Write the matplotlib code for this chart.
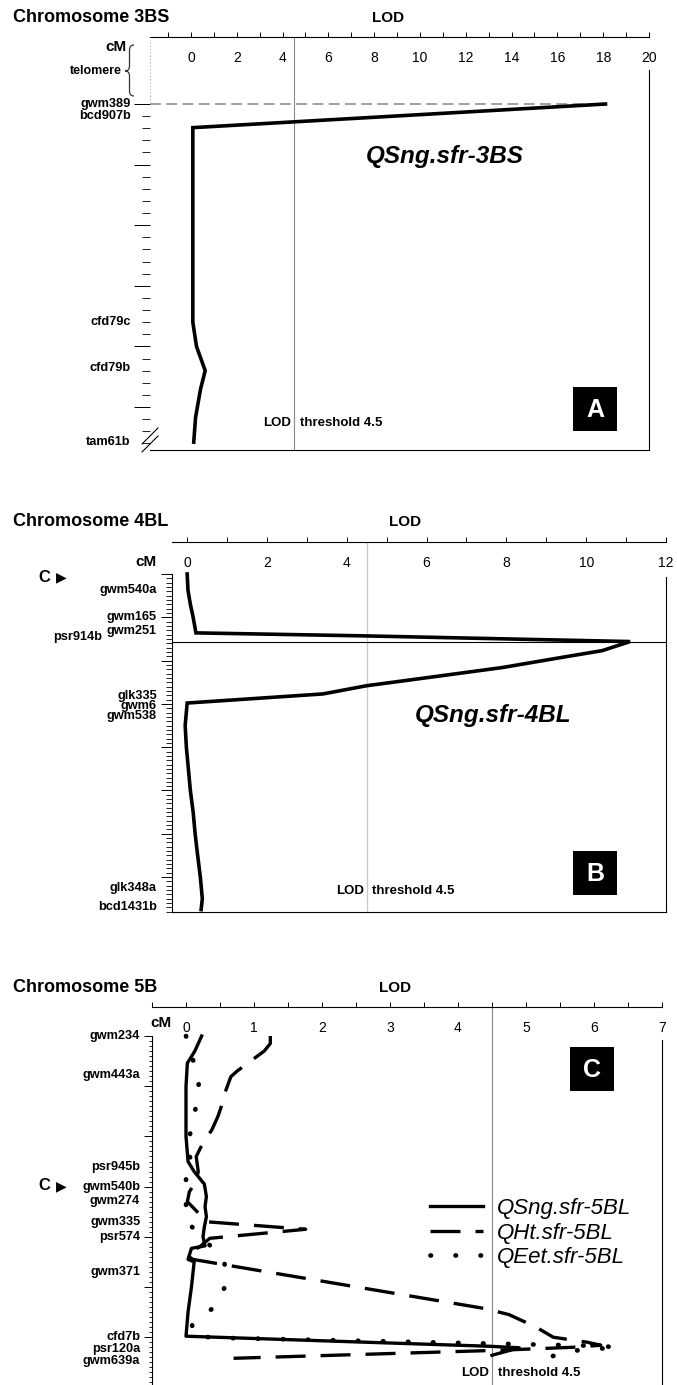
import numpy as np
import matplotlib
matplotlib.use('Agg')
import matplotlib.pyplot as plt
import matplotlib.transforms as mtransforms
from matplotlib.patches import Rectangle, PathPatch
from matplotlib.path import Path

plt.rcParams['font.family'] = ['Liberation Sans', 'DejaVu Sans']

# ---- Chromosome 3BS ----
a_markers = ['gwm389', 'bcd907b', 'cfd79c', 'cfd79b', 'tam61b']
a_marker_cm = [0, 2, 36, 43.5, 55.8]
a_cm = [0, 3.9, 10, 20, 30, 36, 40, 44, 47, 51.7, 55.8]
a_lod = [18.1, 0.08, 0.08, 0.08, 0.08, 0.08, 0.24, 0.62, 0.42, 0.2, 0.12]

# ---- Chromosome 4BL ----
b_markers = ['gwm540a', 'gwm165', 'gwm251', 'psr914b', 'glk335', 'gwm6',
             'gwm538', 'glk348a', 'bcd1431b']
b_marker_cm = [3.7, 10, 13.2, 14.6, 28.2, 30.5, 32.8, 72.5, 76.9]
b_peak_cm = 15.6
b_cm = [0, 3.7, 7, 10, 13.6, 14.3, 15.6, 17.7, 19.4, 21.6, 24.7, 25.8, 27.7,
        29.8, 35, 40, 45, 50, 55, 60, 64, 70, 75, 77.5]
b_lod = [0.0, 0.02, 0.08, 0.15, 0.22, 4.5, 11.1, 10.4, 9.3, 7.9, 5.4, 4.5, 3.4,
         0.0, -0.05, -0.02, 0.03, 0.08, 0.15, 0.2, 0.25, 0.33, 0.38, 0.35]

# ---- Chromosome 5B ----
c_markers = ['gwm234', 'gwm443a', 'psr945b', 'gwm540b', 'gwm274', 'gwm335',
             'psr574', 'gwm371', 'cfd7b', 'psr120a', 'gwm639a']
c_marker_cm = [0, 7.8, 26, 30, 32.8, 37, 40, 47, 60, 62.4, 64.8]
c_cm_sng = [0, 3, 5.4, 10, 20, 25, 27, 29.5, 32, 34, 36, 38, 40, 41.8, 42.3,
            44.5, 45, 50, 55, 59.8, 60.8, 61.8, 62.1, 63.6]
c_sng = [0.23, 0.13, 0.02, 0.0, 0.0, 0.03, 0.12, 0.27, 0.3, 0.28, 0.3, 0.27,
         0.25, 0.28, 0.08, 0.03, 0.12, 0.08, 0.03, 0.0, 2.2, 4.45, 4.9, 4.5]
c_cm_ht = [0, 1.5, 3, 5, 7, 8.1, 11.4, 14, 16, 18.7, 21.3, 24, 27, 29, 31, 33,
           35.5, 37, 38.5, 40.3, 42, 43.5, 44.5, 54.3, 55.5, 58, 60, 61, 61.6,
           62, 62.6, 64.2]
c_ht = [1.24, 1.24, 1.15, 0.95, 0.75, 0.66, 0.57, 0.52, 0.47, 0.38, 0.25, 0.15,
        0.18, 0.15, 0.05, 0.02, 0.2, 0.3, 1.76, 0.35, 0.2, 0.0, 0.1, 4.4, 4.75,
        5.15, 5.4, 5.9, 6.1, 5.7, 4.6, 0.7]
c_cm_et = [0, 4.6, 9.2, 13.8, 18.4, 22.9, 25, 27.5, 32, 36.8, 44.6, 49.2, 53.8,
           57.6, 59.6, 60.1, 61.7, 62.0, 62.8, 64.2]
c_et = [0.0, 0.1, 0.19, 0.15, 0.08, 0.0, 0.1, 0.0, 0.0, 0.0, 0.56, 0.6, 0.43,
        0.09, 0.1, 0.4, 6.0, 6.35, 5.6, 5.3]

threshold = 4.5

W, H = 677, 1385
fig = plt.figure(figsize=(W / 100, H / 100), dpi=100)
pix = mtransforms.Affine2D().scale(1.0 / W, -1.0 / H).translate(0, 1) + fig.transFigure


def add_axes_px(l, t, r, b):
    return fig.add_axes([l / W, 1 - b / H, (r - l) / W, (b - t) / H])


def style_panel(ax, xlim, ylim, xmajor, xminor, ymajor, yminor, ylen, right_from):
    ax.set_xlim(*xlim)
    ax.set_ylim(*ylim)
    ax.xaxis.tick_top()
    ax.set_xticks(xmajor)
    ax.set_xticks(xminor, minor=True)
    ax.set_xticklabels(['%g' % v for v in xmajor])
    ax.tick_params(axis='x', which='both', direction='out', length=3.5,
                   width=0.7, pad=-24, labelsize=10, top=True, bottom=False,
                   labeltop=True, labelbottom=False)
    ax.set_yticks(ymajor)
    ax.set_yticks(yminor, minor=True)
    ax.set_yticklabels([])
    ax.tick_params(axis='y', which='major', direction='out', length=ylen[0], width=0.7)
    ax.tick_params(axis='y', which='minor', direction='out', length=ylen[1], width=0.6)
    for s in ax.spines.values():
        s.set_linewidth(0.8)
    ax.spines['right'].set_bounds(right_from, ylim[0])
    ax.axvline(threshold, color='#888888', lw=0.8, zorder=1)


def marker_labels(ax, names, cms, dx, shifted=None):
    tr = mtransforms.blended_transform_factory(ax.transAxes, ax.transData)
    for n, c in zip(names, cms):
        off = dx
        if shifted and n in shifted:
            off = shifted[n]
        ax.annotate(n, xy=(0, c), xycoords=tr, xytext=(-off, 0),
                    textcoords='offset points', ha='right', va='center',
                    fontsize=9.2, fontweight='bold', annotation_clip=False)


def threshold_text(ax, yfrac):
    tr = mtransforms.blended_transform_factory(ax.transData, ax.transAxes)
    ax.annotate('LOD', xy=(threshold, yfrac), xycoords=tr, xytext=(-2, 0),
                textcoords='offset points', ha='right', va='center',
                fontsize=9.5, fontweight='bold')
    ax.annotate('threshold 4.5', xy=(threshold, yfrac), xycoords=tr, xytext=(4, 0),
                textcoords='offset points', ha='left', va='center',
                fontsize=9.5, fontweight='bold')


def letter_box(x0, y0, size, letter):
    fig.add_artist(Rectangle((x0, y0), size, size, transform=pix,
                             facecolor='black', edgecolor='none'))
    fig.text(x0 + size / 2, y0 + size / 2 + 1, letter, transform=pix, color='white',
             ha='center', va='center', fontsize=18, fontweight='bold')


def header(y, title, lod_x):
    fig.text(13, y, title, transform=pix, ha='left', va='center',
             fontsize=13, fontweight='bold')
    fig.text(lod_x, y, 'LOD', transform=pix, ha='center', va='center',
             fontsize=11, fontweight='bold')


# ---------------- Panel A ----------------
axA = add_axes_px(150, 37, 649, 450)
style_panel(axA, (-1.79, 20), (57.1, -11.06), np.arange(0, 21, 2), np.arange(-1, 21, 1),
            np.arange(0, 51, 10), np.arange(0, 57, 2), (11.5, 6), -5.6)
axA.spines['left'].set_visible(False)
axA.plot([-1.79, -1.79], [-10.2, -0.6], ls=(0, (1, 2)), color='#aaaaaa', lw=0.8,
         clip_on=False)
axA.plot([-1.79, a_lod[0]], [0, 0], ls=(0, (6, 3)), color='#999999', lw=1.3, zorder=2)
axA.plot(a_lod, a_cm, color='black', lw=2.6, solid_joinstyle='miter', zorder=3)
marker_labels(axA, a_markers, a_marker_cm, 14)
threshold_text(axA, 0.065)
axA.text(11.1, 8.7, 'QSng.sfr-3BS', ha='center', va='center', fontsize=17.5,
         fontweight='bold', style='italic')
header(18, 'Chromosome 3BS', 388)
fig.text(126, 47, 'cM', transform=pix, ha='right', va='center', fontsize=11,
         fontweight='bold')
fig.text(122, 71, 'telomere', transform=pix, ha='right', va='center', fontsize=9,
         fontweight='bold')
brace = Path([(134, 45), (129.5, 45), (129.5, 50), (129.5, 66), (129.5, 71),
              (125, 71), (129.5, 71), (129.5, 76), (129.5, 91), (129.5, 96),
              (134, 96)],
             [Path.MOVETO, Path.CURVE3, Path.CURVE3, Path.LINETO, Path.CURVE3,
              Path.CURVE3, Path.CURVE3, Path.CURVE3, Path.LINETO, Path.CURVE3,
              Path.CURVE3])
fig.add_artist(PathPatch(brace, transform=pix, fill=False, lw=0.9, edgecolor='#333333'))
for dy in (0, 8):
    fig.add_artist(plt.Line2D([142, 158], [452 - dy, 436 - dy], transform=pix,
                              color='black', lw=0.8))
letter_box(573, 387, 44, 'A')

# ---------------- Panel B ----------------
axB = add_axes_px(172, 542, 666, 912)
style_panel(axB, (-0.38, 12), (78.06, -7.39), np.arange(0, 13, 2), np.arange(0, 13, 1),
            np.arange(0, 71, 10), np.arange(0, 79, 1), (8, 4), 0.7)
axB.spines['left'].set_bounds(0, 78.06)
axB.axvline(threshold, color='#cccccc', lw=0.8, zorder=1)
axB.axhline(b_peak_cm, color='black', lw=0.8, zorder=2)
axB.plot(b_lod, b_cm, color='black', lw=2.6, solid_joinstyle='miter', zorder=3)
marker_labels(axB, b_markers, b_marker_cm, 11, shifted={'psr914b': 50})
threshold_text(axB, 0.057)
axB.text(7.67, 32.6, 'QSng.sfr-4BL', ha='center', va='center', fontsize=17.5,
         fontweight='bold', style='italic')
header(522, 'Chromosome 4BL', 405)
fig.text(157, 562, 'cM', transform=pix, ha='right', va='center', fontsize=11,
         fontweight='bold')
letter_box(573, 851, 44, 'B')

# ---------------- Panel C ----------------
axC = add_axes_px(152, 1007, 662, 1385)
style_panel(axC, (-0.48, 7), (69.52, -5.78), np.arange(0, 8, 1), np.arange(-0.5, 7.1, 0.5),
            np.arange(0, 61, 10), np.arange(0, 70, 1), (6, 2.5), 0.8)
axC.spines['bottom'].set_visible(False)
axC.spines['left'].set_bounds(0, 69.52)
axC.plot(c_sng, c_cm_sng, color='black', lw=2.4, label='QSng.sfr-5BL', zorder=3)
axC.plot(c_ht, c_cm_ht, color='black', lw=2.4, ls=(0, (9, 4.5)),
         label='QHt.sfr-5BL', zorder=3)
axC.plot(c_et, c_cm_et, color='black', lw=3.4, ls=(0, (0.1, 5.2)),
         dash_capstyle='round', label='QEet.sfr-5BL', zorder=3)
marker_labels(axC, c_markers, c_marker_cm, 8.5)
threshold_text(axC, 0.032)
axC.legend(loc='center left', bbox_to_anchor=(0.545, 0.402), frameon=False,
           handlelength=2.4, handletextpad=0.6, labelspacing=0.15, borderpad=0,
           borderaxespad=0, prop={'size': 16, 'style': 'italic'})
header(988, 'Chromosome 5B', 395)
fig.text(161, 1023, 'cM', transform=pix, ha='center', va='center', fontsize=11,
         fontweight='bold')
letter_box(570, 1047, 44, 'C')

# centromere arrows
for y in (577, 1186):
    fig.text(44, y, 'C', transform=pix, ha='center', va='center', fontsize=12,
             fontweight='bold')
    fig.text(61, y, '\u25B6', transform=pix, ha='center', va='center', fontsize=10,
             family='DejaVu Sans')

fig.savefig('out.png', dpi=100)
